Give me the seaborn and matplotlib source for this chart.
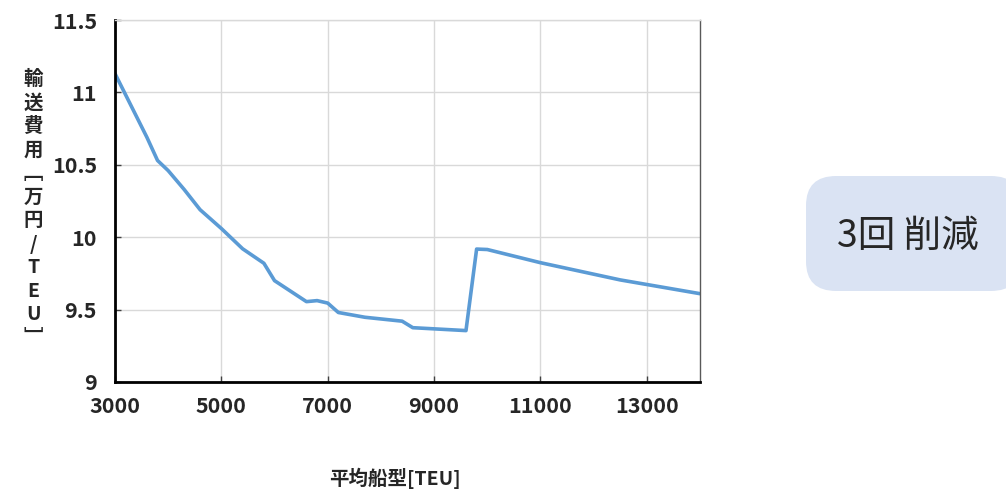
import pandas as pd
import seaborn as sns
import matplotlib.pyplot as plt
from matplotlib.patches import FancyBboxPatch

# Values
ship_size = [3000, 3600, 3800, 4000, 4300, 4600, 5000, 5400, 5800, 6000,
             6600, 6800, 7000, 7200, 7700, 8400, 8600, 9600, 9800, 10000,
             11000, 12500, 14000]
cost = [11.13, 10.69, 10.53, 10.46, 10.33, 10.19, 10.06, 9.92, 9.82, 9.70,
        9.555, 9.562, 9.545, 9.48, 9.447, 9.42, 9.375, 9.355, 9.918, 9.915,
        9.824, 9.705, 9.61]
x_ticks = [3000, 5000, 7000, 9000, 11000, 13000]
y_ticks = [9, 9.5, 10, 10.5, 11, 11.5]
y_tick_labels = ['9', '9.5', '10', '10.5', '11', '11.5']

df = pd.DataFrame({'size': ship_size, 'cost': cost})

sns.set_style('white')
plt.rcParams['font.family'] = ['Noto Sans CJK JP', 'DejaVu Sans']

fig = plt.figure(figsize=(10.06, 4.92), dpi=100)
ax = fig.add_axes([0.1143, 0.2236, 0.5815, 0.7357])

sns.lineplot(data=df, x='size', y='cost', color='#5B9BD5', linewidth=2.6, ax=ax)

ax.set_xlim(3000, 14000)
ax.set_ylim(9, 11.5)
ax.set_xticks(x_ticks)
ax.set_yticks(y_ticks)
ax.set_yticklabels(y_tick_labels)
ax.grid(True, color='#d9d9d9', linewidth=1)
ax.set_axisbelow(True)

for lab in ax.get_xticklabels() + ax.get_yticklabels():
    lab.set_fontweight('bold')
    lab.set_fontsize(15.5)
ax.tick_params(axis='both', direction='in', length=4, width=1, color='#404040',
               bottom=True, left=True)
ax.tick_params(axis='y', pad=13)
ax.tick_params(axis='x', pad=10)

for side in ['left', 'bottom']:
    ax.spines[side].set_color('black')
    ax.spines[side].set_linewidth(2)
ax.spines['top'].set_color('#d9d9d9')
ax.spines['top'].set_linewidth(1)
ax.spines['right'].set_color('#595959')
ax.spines['right'].set_linewidth(1)

ax.set_xlabel('')
ax.set_ylabel('')

# x label
fig.text(0.393, 0.028, '平均船型[TEU]', ha='center', va='center',
         fontsize=14, fontweight='bold')

# vertical y label
ylab = '\n'.join(list('輸送費用') + ['﹇'] + list('万円') + ['/', 'T', 'E', 'U', '﹈'])
fig.text(0.033, 0.575, ylab, ha='center', va='center', fontsize=14,
         fontweight='bold', linespacing=1.3)

# rounded box on the right
box = FancyBboxPatch((806 / 1006, 1 - 291 / 492), 215 / 1006, 115 / 492,
                     boxstyle='round,pad=0,rounding_size=0.03',
                     transform=fig.transFigure, facecolor='#DAE3F3',
                     edgecolor='none', mutation_aspect=2.0)
fig.patches.append(box)
fig.text(908 / 1006, 1 - 236 / 492, '3回 削減', ha='center', va='center',
         fontsize=27)

fig.savefig('out.png', dpi=100)
